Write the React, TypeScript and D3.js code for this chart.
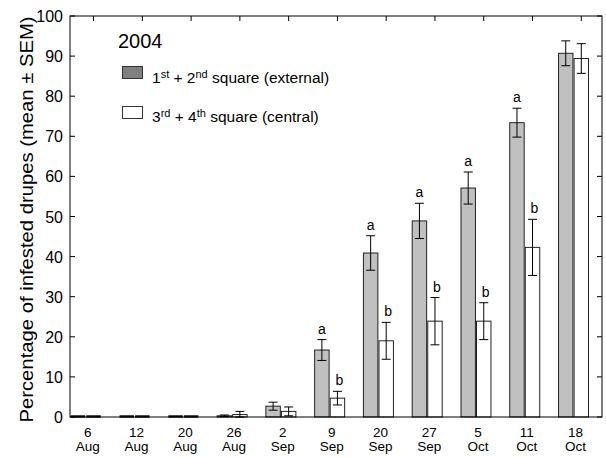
import React from 'react'
import * as d3 from 'd3'

const days = ['6', '12', '20', '26', '2', '9', '20', '27', '5', '11', '18']
const months = ['Aug', 'Aug', 'Aug', 'Aug', 'Sep', 'Sep', 'Sep', 'Sep', 'Oct', 'Oct', 'Oct']
const externalMean = [0, 0, 0, 0.3, 2.7, 16.7, 40.9, 48.9, 57.1, 73.4, 90.7]
const externalSem = [0, 0, 0, 0.2, 1.0, 2.6, 4.3, 4.4, 4.0, 3.6, 3.1]
const centralMean = [0, 0, 0, 0.6, 1.4, 4.7, 19.0, 23.9, 23.9, 42.3, 89.4]
const centralSem = [0, 0, 0, 0.8, 1.1, 1.7, 4.6, 5.9, 4.6, 7.0, 3.7]
const externalLetters = ['', '', '', '', '', 'a', 'a', 'a', 'a', 'a', '']
const centralLetters = ['', '', '', '', '', 'b', 'b', 'b', 'b', 'b', '']
const yTicks = [0, 10, 20, 30, 40, 50, 60, 70, 80, 90, 100]

const W = 606
const H = 457
const frame = { left: 70, right: 602, top: 16, bottom: 417 }
const font = 'Liberation Sans, Arial, sans-serif'

const App = () => {
  const keys = days.map((d, i) => `${d}-${months[i]}-${i}`)
  const x = d3.scaleBand<string>().domain(keys).range([61.4, 597.9])
  const sub = d3.scaleBand<string>().domain(['ext', 'cen']).range([0, 30]).paddingInner(0.07)
  const y = d3.scaleLinear().domain([0, 100]).range([frame.bottom, frame.top])

  const groupLeft = (i: number) => (x(keys[i]) as number) + x.bandwidth() / 2 - 15

  const series = [
    { key: 'ext', mean: externalMean, sem: externalSem, letters: externalLetters, fill: '#c0c0c0' },
    { key: 'cen', mean: centralMean, sem: centralSem, letters: centralLetters, fill: '#ffffff' },
  ]

  return (
    <svg width={W} height={H} style={{ position: 'absolute', left: 0, top: 0, background: '#fff' }} fontFamily={font}>
      {series.map(s => (
        <g key={s.key}>
          {s.mean.map((m, i) => {
            const bx = groupLeft(i) + (sub(s.key) as number)
            const bw = sub.bandwidth()
            const cx = bx + bw / 2
            const hi = y(m + s.sem[i])
            const lo = y(Math.max(0, m - s.sem[i]))
            return (
              <g key={i}>
                {m > 0 ? (
                  <rect x={bx} y={y(m)} width={bw} height={frame.bottom - y(m)} fill={s.fill} stroke="#222" strokeWidth={1} />
                ) : (
                  <line x1={bx} x2={bx + bw} y1={frame.bottom - 0.5} y2={frame.bottom - 0.5} stroke="#111" strokeWidth={2.5} />
                )}
                {s.sem[i] > 0 && (
                  <g stroke="#000" strokeWidth={1}>
                    <line x1={cx} x2={cx} y1={hi} y2={lo} />
                    <line x1={cx - 4.5} x2={cx + 4.5} y1={hi} y2={hi} />
                    <line x1={cx - 4.5} x2={cx + 4.5} y1={lo} y2={lo} />
                  </g>
                )}
                {s.letters[i] && (
                  <text x={cx + (s.key === 'cen' ? 2 : 0)} y={hi - 6} textAnchor="middle" fontSize={14}>
                    {s.letters[i]}
                  </text>
                )}
              </g>
            )
          })}
        </g>
      ))}

      <rect x={frame.left} y={frame.top} width={frame.right - frame.left} height={frame.bottom - frame.top}
        fill="none" stroke="#000" strokeWidth={1} />

      {yTicks.map(t => (
        <g key={t}>
          <line x1={frame.left} x2={frame.left + 5} y1={y(t)} y2={y(t)} stroke="#000" />
          <line x1={frame.right - 5} x2={frame.right} y1={y(t)} y2={y(t)} stroke="#000" />
          <text x={frame.left - 7} y={y(t) + 6} textAnchor="end" fontSize={16}>{t}</text>
        </g>
      ))}

      {keys.map((k, i) => {
        const tx = groupLeft(i) + (sub('cen') as number) + sub.bandwidth() / 2
        const lx = groupLeft(i) + 17
        return (
          <g key={k}>
            <line x1={tx} x2={tx} y1={frame.top} y2={frame.top + 5} stroke="#000" />
            <text x={lx} y={437} textAnchor="middle" fontSize={13.5}>{days[i]}</text>
            <text x={lx} y={451} textAnchor="middle" fontSize={13.5}>{months[i]}</text>
          </g>
        )
      })}

      <text transform="translate(33,219.5) rotate(-90)" textAnchor="middle" fontSize={19}
        textLength={406} lengthAdjust="spacingAndGlyphs">
        Percentage of infested drupes (mean ± SEM)
      </text>

      <text x={118} y={48} fontSize={20}>2004</text>
      <rect x={122.5} y={66.5} width={20} height={12} fill="#808080" stroke="#333" />
      <text x={152} y={83} fontSize={15.5}>
        1<tspan fontSize={11} dy={-5}>st</tspan><tspan dy={5}> + 2</tspan><tspan fontSize={11} dy={-5}>nd</tspan><tspan dy={5}> square (external)</tspan>
      </text>
      <rect x={122.5} y={106.5} width={20} height={12} fill="#fff" stroke="#333" />
      <text x={152} y={122} fontSize={15.5}>
        3<tspan fontSize={11} dy={-5}>rd</tspan><tspan dy={5}> + 4</tspan><tspan fontSize={11} dy={-5}>th</tspan><tspan dy={5}> square (central)</tspan>
      </text>
    </svg>
  )
}

export default App
